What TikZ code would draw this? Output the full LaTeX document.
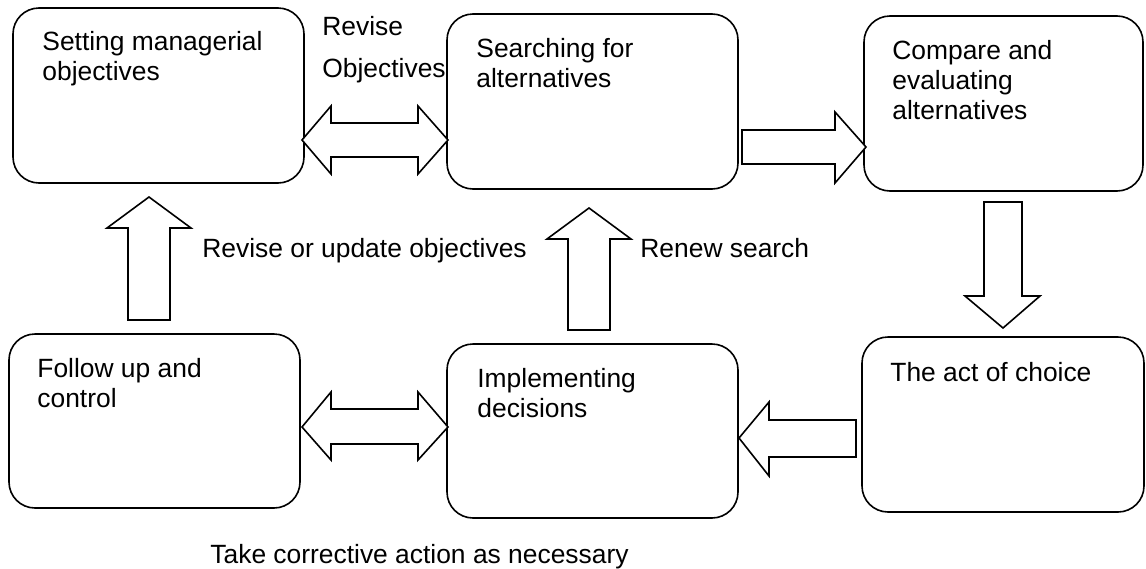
\documentclass[tikz,border=0pt]{standalone}
\usepackage{fontspec}
\setmainfont{Liberation Sans}
\begin{document}
\begin{tikzpicture}[x=0.5pt,y=-0.5pt,
  box/.style={draw, line width=0.8pt, rounded corners=13pt, inner sep=0pt, minimum height=87.5pt},
  txt/.style={inner sep=0pt, align=left, font=\fontsize{13.2}{15}\selectfont},
  blockarrow/.style={draw, line width=0.8pt, line join=miter, fill=white}]
\useasboundingbox (0,0) rectangle (1146,568);
% boxes
\node[box, minimum width=145.5pt] (b1) at (158.5,95.5) {};
\node[box, minimum width=145.5pt] (b2) at (592.5,101.5) {};
\node[box, minimum width=139.5pt] (b3) at (1003.5,103.5) {};
\node[box, minimum width=145.5pt, minimum height=87pt] (b4) at (154.5,421) {};
\node[box, minimum width=145.5pt, minimum height=87pt] (b5) at (592.5,431) {};
\node[box, minimum width=141pt] (b6) at (1003,424.5) {};
% box texts
\node[txt, anchor=north west] (t1) at (42,31) {Setting managerial\\objectives};
\node[txt, anchor=north west] (t2) at (476,38) {Searching for\\alternatives};
\node[txt, anchor=north west] (t3) at (892,40) {Compare and\\evaluating\\alternatives};
\node[txt, anchor=north west] (t4) at (37,358) {Follow up and\\control};
\node[txt, anchor=north west] (t5) at (477,368) {Implementing\\decisions};
\node[txt, anchor=north west] (t6) at (890,362) {The act of choice};
% free labels
\node[txt, anchor=north west] (l1) at (322,16) {Revise\\[6pt]Objectives};
\node[txt, anchor=base west] (l2) at (202,257) {Revise or update objectives};
\node[txt, anchor=base west] (l3) at (640,257) {Renew search};
\node[txt, anchor=base west] (l4) at (210,563) {Take corrective action as necessary};
% block arrows
\draw[blockarrow] (302,140) -- (331,106) -- (331,123) -- (418,123) -- (418,106) -- (448,140)
  -- (418,174) -- (418,157) -- (331,157) -- (331,174) -- cycle;
\draw[blockarrow] (742,130) -- (835,130) -- (835,112) -- (866,147) -- (835,183) -- (835,164) -- (742,164) -- cycle;
\draw[blockarrow] (984,202) -- (1022,202) -- (1022,296) -- (1040,296) -- (1003,328) -- (965,296) -- (984,296) -- cycle;
\draw[blockarrow] (856,420) -- (769,420) -- (769,402) -- (739,438) -- (769,476) -- (769,457) -- (856,457) -- cycle;
\draw[blockarrow] (302,427) -- (331,392) -- (331,409) -- (418,409) -- (418,392) -- (448,427)
  -- (418,460) -- (418,444) -- (331,444) -- (331,460) -- cycle;
\draw[blockarrow] (128,320) -- (128,228) -- (107,228) -- (149,197) -- (191,228) -- (170,228) -- (170,320) -- cycle;
\draw[blockarrow] (568,330) -- (568,239) -- (547,239) -- (589,208) -- (631,239) -- (610,239) -- (610,330) -- cycle;
\end{tikzpicture}
\end{document}
